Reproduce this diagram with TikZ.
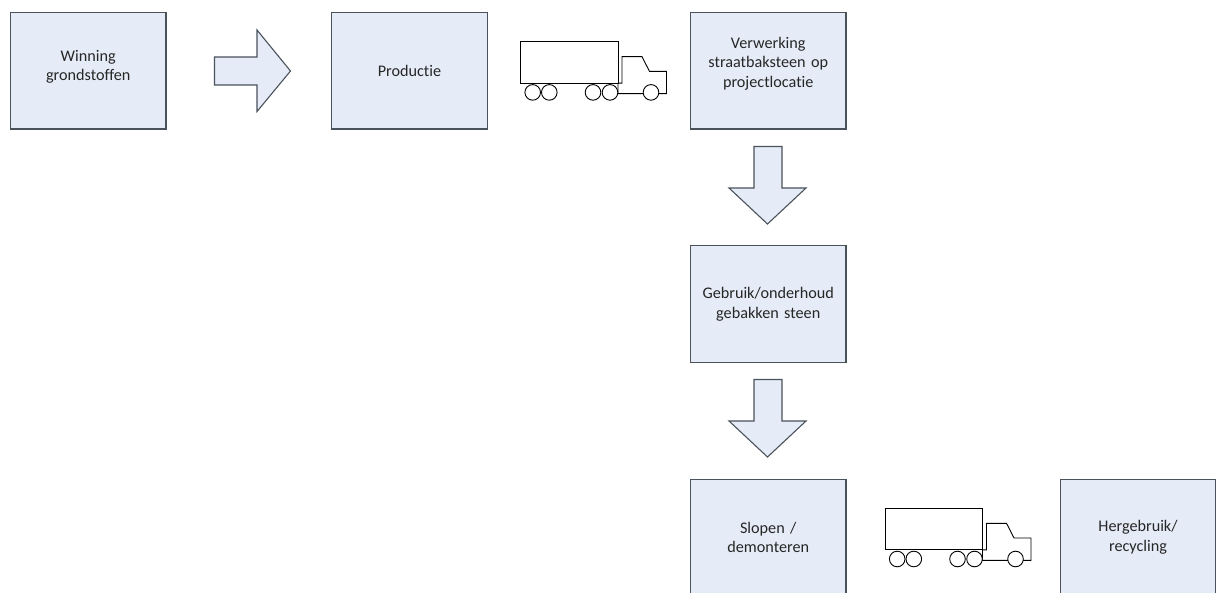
\documentclass[tikz,border=0pt]{standalone}
\usepackage{fontspec}
\setmainfont{Carlito}[RawFeature={-liga;-clig;-dlig}]
\definecolor{boxfill}{HTML}{E6ECF7}
\definecolor{boxline}{HTML}{4A525C}
\definecolor{txt}{HTML}{262626}
\tikzset{
  x=1pt,y=-1pt,
  boxtext/.style={inner sep=2pt,align=center,text width=150pt,text=txt,font=\fontsize{16.2}{19.6}\selectfont},
  procbox/.style={boxtext,draw=boxline,line width=1.2pt,fill=boxfill,minimum width=155.5pt,minimum height=116.5pt},
  flowarrow/.style={draw=boxline,line width=1.1pt,fill=boxfill,line join=miter},
  truckline/.style={draw=black,line width=0.9pt,fill=white},
  pics/truck/.style={code={
    \draw[truckline] (101.5,15) -- (101.5,41.5) -- (97.5,41.5) -- (97.5,52) -- (146,52) -- (146,29.7) -- (129,29.7) -- (121.5,15) -- cycle;
    \draw[truckline] (0,0) rectangle (97.5,41.6);
    \foreach \cx in {12.2,28.8,72.5,89.5,130.5}{\draw[truckline] (\cx,50.7) circle (7.8);}
  }}
}
\begin{document}
\begin{tikzpicture}
\useasboundingbox (0,0) rectangle (1218,593);
\node[procbox,label={[boxtext,yshift=4pt]center:Winning\\grondstoffen}] (winning) at (88.25,70.75) {};
\node[procbox] (productie) at (409.5,70.75) {Productie};
\node[procbox,label={[boxtext,yshift=7pt]center:Verwerking\\straatbaksteen op\\projectlocatie}] (verwerking) at (768.25,70.75) {};
\node[procbox] (gebruik) at (768.25,304) {Gebruik/onderhoud\\gebakken steen};
\node[procbox] (slopen) at (768.25,537.5) {Slopen /\\demonteren};
\node[procbox] (hergebruik) at (1138,537.5) {Hergebruik/\\recycling};
\draw[flowarrow] (214.5,57) -- (257,57) -- (257,30) -- (290.5,71) -- (257,111.5) -- (257,85) -- (214.5,85) -- cycle;
\draw[flowarrow] (754,146.5) -- (782,146.5) -- (782,188) -- (806,188) -- (767.5,224) -- (729,188) -- (754,188) -- cycle;
\draw[flowarrow] (754,379.5) -- (782,379.5) -- (782,421) -- (806,421) -- (767.5,457) -- (729,421) -- (754,421) -- cycle;
\pic at (520.5,41.7) {truck};
\pic at (885,508.3) {truck};
\end{tikzpicture}
\end{document}
